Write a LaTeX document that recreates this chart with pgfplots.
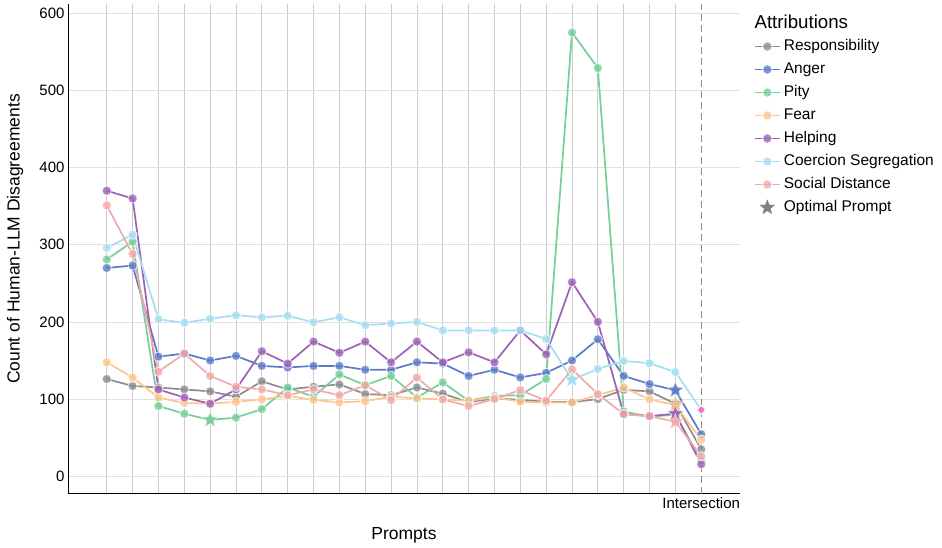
\documentclass[border=0pt]{standalone}
\usepackage{fontspec}
\setmainfont{Liberation Sans}
\usepackage{pgfplots}
\pgfplotsset{compat=1.18}
\definecolor{cresp}{HTML}{8C8C8C}
\definecolor{cang}{HTML}{5B7BC8}
\definecolor{cpity}{HTML}{74CF98}
\definecolor{cfear}{HTML}{FFC48C}
\definecolor{chelp}{HTML}{9B62B5}
\definecolor{ccoer}{HTML}{A6DDF3}
\definecolor{csoc}{HTML}{F2A9A9}
\pgfdeclareplotmark{fstar}{%
 \pgfpathmoveto{\pgfpointpolar{90}{\pgfplotmarksize}}%
 \pgfpathlineto{\pgfpointpolar{126}{0.42\pgfplotmarksize}}%
 \pgfpathlineto{\pgfpointpolar{162}{\pgfplotmarksize}}%
 \pgfpathlineto{\pgfpointpolar{198}{0.42\pgfplotmarksize}}%
 \pgfpathlineto{\pgfpointpolar{234}{\pgfplotmarksize}}%
 \pgfpathlineto{\pgfpointpolar{270}{0.42\pgfplotmarksize}}%
 \pgfpathlineto{\pgfpointpolar{306}{\pgfplotmarksize}}%
 \pgfpathlineto{\pgfpointpolar{342}{0.42\pgfplotmarksize}}%
 \pgfpathlineto{\pgfpointpolar{18}{\pgfplotmarksize}}%
 \pgfpathlineto{\pgfpointpolar{54}{0.42\pgfplotmarksize}}%
 \pgfpathclose
 \pgfusepathqfillstroke}
\pgfplotsset{
 ser/.style={color=#1, line width=1.7pt, mark=*, mark size=4.6pt,
   mark options={solid, fill=#1, fill opacity=0.8, draw=white, draw opacity=0.7, line width=0.9pt}},
 st/.style={forget plot, only marks, mark=fstar, mark size=8.5pt, color=#1,
   mark options={fill=#1, fill opacity=0.85, draw=white, draw opacity=0.6, line width=0.5pt}},
 starlegend/.style={legend image code/.code={\draw[##1] plot coordinates {(12.5pt,0pt)};}},
}
\begin{document}
\begin{tikzpicture}
\useasboundingbox (0pt,0pt) rectangle (942pt,548pt);
\begin{axis}[at={(68pt,54pt)}, anchor=south west, scale only axis,
 width=672pt, height=490pt,
 xmin=-1.5, xmax=24.5, ymin=-23, ymax=612,
 axis lines=left, axis line style={-, black, line width=1pt},
 xtick={0,...,22}, xticklabel={\mbox{}},
 extra x ticks={23}, extra x tick labels={Intersection},
 extra x tick style={grid=none},
 ytick={0,100,...,600},
 major tick length=0pt,
 xmajorgrids, ymajorgrids,
 x grid style={color=black!20, line width=0.8pt},
 y grid style={color=black!12, line width=0.8pt},
 tick label style={font=\fontsize{15}{15}\selectfont},
 /pgf/number format/assume math mode=true,
 legend style={at={(1.0205,0.931)}, anchor=north west, draw=none, fill=none,
   font=\fontsize{15.5}{16}\selectfont, row sep=6pt, column sep=1.7pt, inner sep=0pt,
   nodes={inner sep=1.5pt, text height=11pt, text depth=3pt, anchor=west}},
 legend cell align=left,
 legend image code/.code={\draw[mark repeat=2,mark phase=2,#1] plot coordinates {(0pt,0pt) (12.5pt,0pt) (25pt,0pt)};},
]
\draw[dash pattern=on 7pt off 4pt, color=black!45, line width=1.4pt] (axis cs:23,-23) -- (axis cs:23,612);
\addplot[ser=cresp] coordinates {(0,126)(1,117)(2,115)(3,112.5)(4,110)(5,103)(6,123)(7,112.5)(8,116)(9,119)(10,106.5)(11,105)(12,115)(13,107)(14,96)(15,101)(16,99)(17,96.5)(18,96)(19,100)(20,112)(21,110)(22,94)(23,35)};
\addlegendentry{Responsibility}
\addplot[ser=cang] coordinates {(0,270)(1,273)(2,155)(3,159)(4,150)(5,156)(6,143)(7,141)(8,143)(9,143)(10,138)(11,138)(12,147.6)(13,146)(14,130)(15,138)(16,128)(17,134)(18,150)(19,177.5)(20,130)(21,119.5)(22,111.5)(23,54.5)};
\addlegendentry{Anger}
\addplot[ser=cpity] coordinates {(0,281)(1,304)(2,91)(3,81)(4,73)(5,76)(6,87)(7,115)(8,103)(9,132)(10,118)(11,130)(12,102)(13,121.6)(14,98)(15,104)(16,105)(17,126)(18,575)(19,529)(20,84)(21,77)(22,80)(23,20.5)};
\addlegendentry{Pity}
\addplot[ser=cfear] coordinates {(0,147.6)(1,128)(2,102)(3,95)(4,94)(5,96.5)(6,99.6)(7,104)(8,99)(9,95.7)(10,97.4)(11,103)(12,101)(13,99.6)(14,98)(15,102)(16,96.5)(17,95.7)(18,95.7)(19,105)(20,115)(21,99.6)(22,92)(23,47.5)};
\addlegendentry{Fear}
\addplot[ser=chelp] coordinates {(0,370)(1,360)(2,112.5)(3,102)(4,94)(5,112.5)(6,162)(7,146)(8,174.5)(9,160)(10,174.5)(11,147.6)(12,174.5)(13,147.6)(14,160.6)(15,147.6)(16,189)(17,158)(18,251.5)(19,200)(20,80.5)(21,78)(22,81)(23,15.6)};
\addlegendentry{Helping}
\addplot[ser=ccoer] coordinates {(0,296)(1,313)(2,203.5)(3,199)(4,204)(5,208.7)(6,206)(7,208)(8,199.6)(9,206)(10,195.7)(11,198)(12,200)(13,189)(14,189)(15,189)(16,189)(17,178)(18,125)(19,139)(20,149.5)(21,146.5)(22,135)(23,86)};
\addlegendentry{Coercion Segregation}
\addplot[ser=csoc] coordinates {(0,351)(1,288)(2,135.5)(3,159)(4,130)(5,116)(6,112.5)(7,105)(8,112.5)(9,105)(10,118)(11,98.7)(12,128)(13,99.6)(14,91)(15,100)(16,111.7)(17,98)(18,138.5)(19,106.5)(20,80.5)(21,78)(22,70.5)(23,26)};
\addlegendentry{Social Distance}
\addplot[forget plot, only marks, mark=*, mark size=3.4pt, mark options={fill=magenta!55, draw=white, line width=0.6pt}] coordinates {(23,86)};
\addplot[st=cresp] coordinates {(22,94)};
\addplot[st=cpity] coordinates {(4,73)};
\addplot[st=ccoer] coordinates {(18,125)};
\addplot[st=cfear] coordinates {(22,92)};
\addplot[st=chelp] coordinates {(22,81)};
\addplot[st=csoc] coordinates {(22,70.5)};
\addplot[st=cang] coordinates {(22,111.5)};
\addlegendimage{starlegend, only marks, mark=fstar, mark size=7.5pt, color=black!50, mark options={fill=black!50, draw=black!50}}
\addlegendentry{Optimal Prompt}
\end{axis}
\node[anchor=west, font=\fontsize{18.7}{19}\selectfont] at (751pt,526pt) {Attributions};
\node[rotate=90, font=\fontsize{17.5}{18}\selectfont] at (15pt,309pt) {Count of Human-LLM Disagreements};
\node[font=\fontsize{17.5}{18}\selectfont] at (404pt,13pt) {Prompts};
\end{tikzpicture}
\end{document}
